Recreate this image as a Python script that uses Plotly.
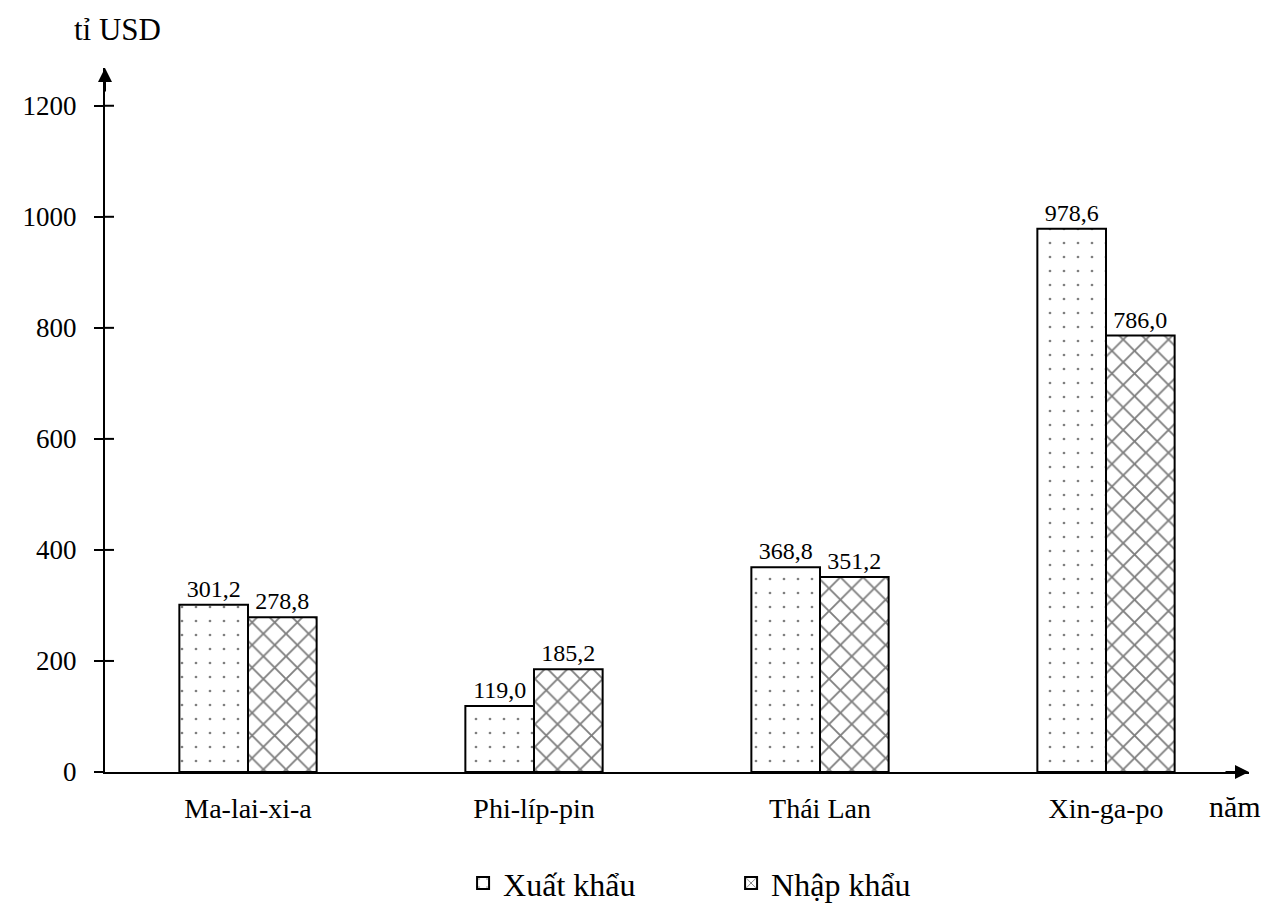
import plotly.graph_objects as go

countries = ["Ma-lai-xi-a", "Phi-líp-pin", "Thái Lan", "Xin-ga-po"]
xuat_khau = [301.2, 119.0, 368.8, 978.6]
nhap_khau = [278.8, 185.2, 351.2, 786.0]
y_ticks = [0, 200, 400, 600, 800, 1000, 1200]

FONT = "Liberation Serif"

def fmt(v):
    return f"{v:.1f}".replace(".", ",")

fig = go.Figure()
fig.add_trace(go.Bar(
    name="Xuất khẩu", x=countries, y=xuat_khau,
    text=[fmt(v) for v in xuat_khau], textposition="outside",
    textfont=dict(family=FONT, size=24, color="black"),
    marker=dict(color="white", line=dict(color="black", width=2),
                pattern=dict(shape=".", fgcolor="black", bgcolor="white", size=14, solidity=0.03)),
    cliponaxis=False,
))
fig.add_trace(go.Bar(
    name="Nhập khẩu", x=countries, y=nhap_khau,
    text=[fmt(v) for v in nhap_khau], textposition="outside",
    textfont=dict(family=FONT, size=24, color="black"),
    marker=dict(color="white", line=dict(color="black", width=2),
                pattern=dict(shape="x", fgcolor="black", bgcolor="white", size=16, solidity=0.22)),
    cliponaxis=False,
))

fig.update_layout(
    width=1285, height=921,
    margin=dict(l=97, r=44, t=60, b=157, autoexpand=False),
    paper_bgcolor="white", plot_bgcolor="white",
    font=dict(family=FONT, size=26, color="black"),
    barmode="group", bargap=0.52, bargroupgap=0,
    showlegend=True,
    legend=dict(orientation="h", x=0.313, xanchor="left", y=-0.158, yanchor="middle",
                font=dict(family=FONT, size=32, color="black"), entrywidth=223),
    xaxis=dict(range=[-0.5, 3.5], showline=True, linecolor="black", linewidth=2,
               showgrid=False, zeroline=False, ticks="", ticklabelstandoff=10,
               tickfont=dict(family=FONT, size=28), automargin=False),
    yaxis=dict(range=[0, 1268], showline=True, linecolor="black", linewidth=2,
               showgrid=False, zeroline=False, tickvals=y_ticks,
               ticktext=[str(v) for v in y_ticks],
               ticks="outside", ticklen=9, tickwidth=2, tickcolor="black",
               ticklabelstandoff=12, tickfont=dict(family=FONT, size=27), automargin=False),
)

# inner halves of the crossing y ticks
for v in y_ticks[1:]:
    fig.add_shape(type="line", xref="paper", yref="y", x0=0, x1=9 / 1144, y0=v, y1=v,
                  line=dict(color="black", width=2))

# axis arrows
fig.add_annotation(xref="paper", yref="paper", x=0, y=1.0, ax=0, ay=25, text="",
                   showarrow=True, arrowhead=2, arrowsize=1.4, arrowwidth=2, arrowcolor="black")
fig.add_annotation(xref="paper", yref="paper", x=1.0, y=0, ax=-25, ay=0, text="",
                   showarrow=True, arrowhead=2, arrowsize=1.4, arrowwidth=2, arrowcolor="black")

# axis titles
fig.add_annotation(xref="paper", yref="paper", x=0, y=1.0, xshift=-33, yshift=58, text="tỉ USD",
                   showarrow=False, font=dict(family=FONT, size=31, color="black"))
fig.add_annotation(xref="paper", yref="paper", x=1.0, y=0, yshift=-53, xshift=14, text="năm",
                   showarrow=False, font=dict(family=FONT, size=30, color="black"))

fig.write_html("out.html")
